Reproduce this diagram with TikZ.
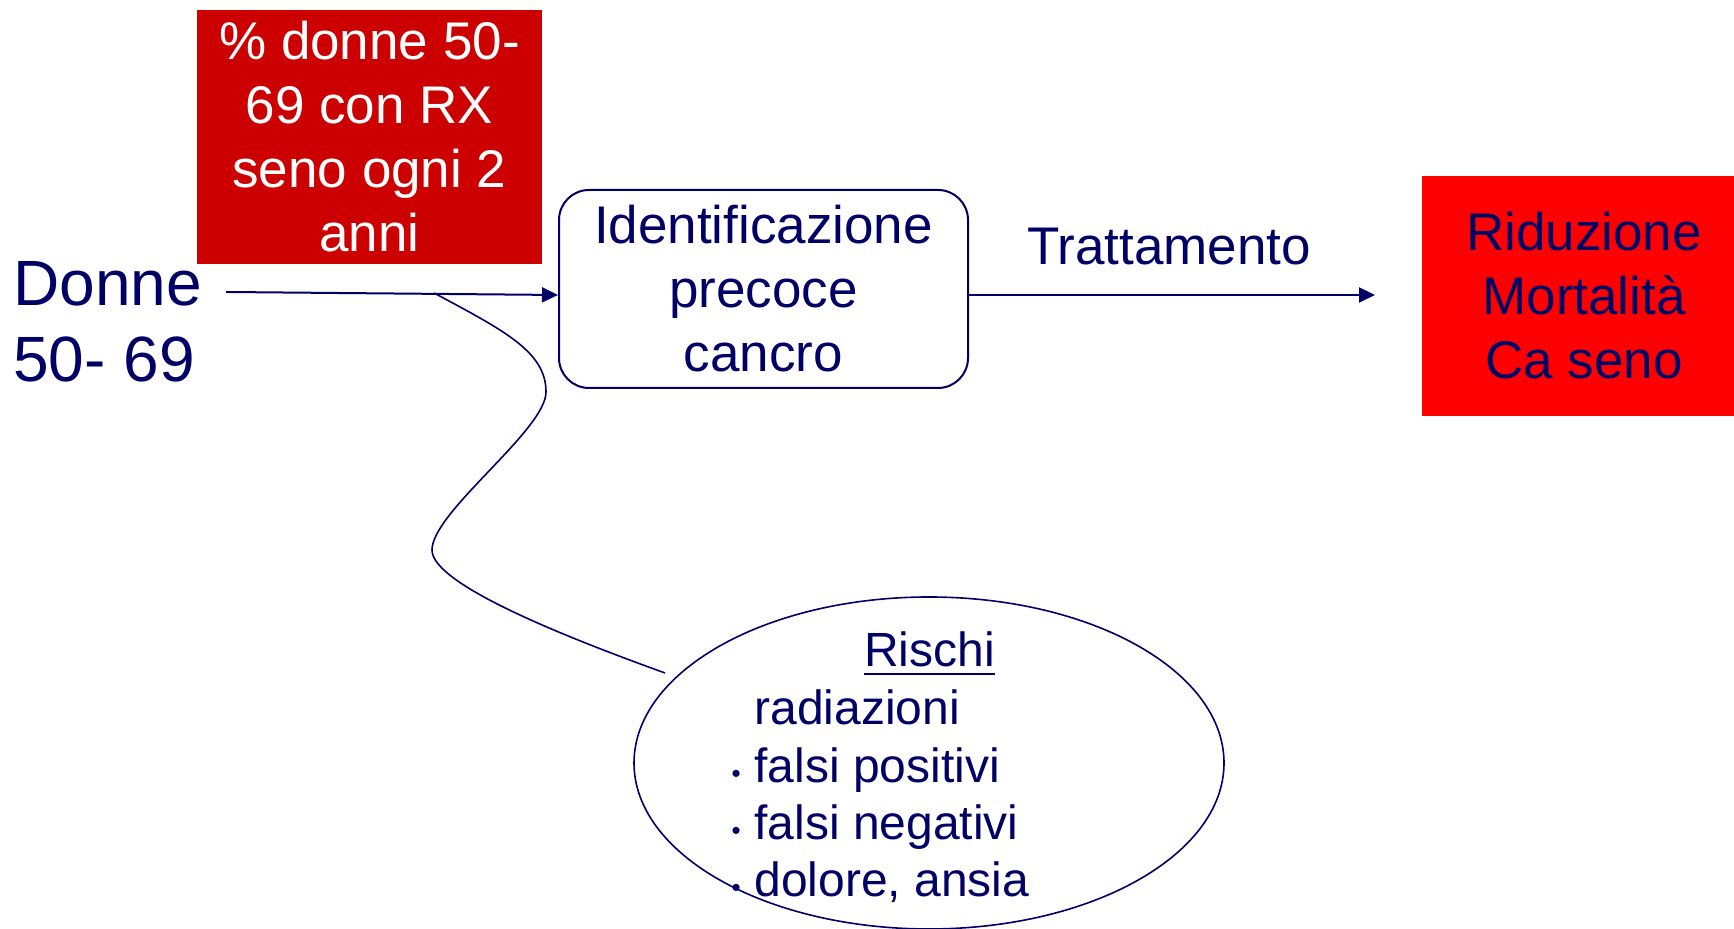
\documentclass[tikz,border=0pt]{standalone}
\usepackage{fontspec}
\setmainfont{Liberation Sans}
\usetikzlibrary{arrows.meta,shapes.geometric}
\definecolor{navy}{RGB}{0,0,102}
\definecolor{darkred}{RGB}{204,0,0}
\definecolor{brightred}{RGB}{255,0,0}
\tikzset{
    stagebox/.style={draw=navy,line width=1pt,rounded corners=15pt,minimum width=204.5pt,minimum height=99pt,align=center,text=navy,inner sep=0pt},
    redbox/.style={inner sep=0pt,align=center},
    flow/.style={navy,line width=1pt,-{Triangle[length=8pt,width=7.5pt]}},
    callout/.style={navy,line width=0.8pt},
    bigtext/.style={font=\fontsize{26.5}{32}\selectfont},
    listtext/.style={text=navy,font=\fontsize{24}{28}\selectfont,inner sep=0pt,anchor=base west}
}
\begin{document}
\begin{tikzpicture}[x=0.5pt,y=0.5pt]
\useasboundingbox (0,0) rectangle (1734,929);

\node[text=navy,font=\fontsize{32}{38}\selectfont,align=left,inner sep=0pt,anchor=west] (donne) at (13,607) {Donne\\50- 69};
\node[redbox,fill=darkred,text=white,bigtext,minimum width=172.5pt,minimum height=127pt] (screen) at (369.5,792) {\% donne 50-\\69 con RX\\seno ogni 2\\anni};
\node[stagebox,bigtext] (ident) at (763.5,640) {Identificazione\\precoce\\cancro};
\node[redbox,fill=brightred,text=navy,bigtext,minimum width=162pt,minimum height=120pt] (esito) at (1584,633) {Riduzione\\Mortalità\\Ca seno};

\coordinate (src) at (226,637);
\coordinate (tgt) at (1375,634);
\draw[flow] (src) -- ([yshift=-3pt]ident.west);
\draw[flow] ([yshift=-3pt]ident.east) -- (tgt);
\node[text=navy,bigtext,anchor=base,inner sep=0pt] (cure) at (1169,664) {Trattamento};

% rischi
\node[draw=navy,line width=0.8pt,ellipse,minimum width=295pt,minimum height=166pt,inner sep=0pt] (risk) at (929,166) {};
\node[listtext,anchor=base] (rischi) at (929.5,262) {Rischi};
\draw[navy,line width=1pt] ([yshift=-3.5pt]rischi.base west) -- ([yshift=-3.5pt]rischi.base east);
\foreach \yy/\txt [count=\i] in {204/radiazioni,146/falsi positivi,89/falsi negativi,32/{dolore, ansia}}
    \node[listtext] (item\i) at (754,\yy) {\txt};
\foreach \i in {2,3,4}
    \node[text=navy,font=\fontsize{13}{13}\selectfont,inner sep=0pt,anchor=base east] (dot\i) at ([xshift=-6.5pt]item\i.base west) {\textbullet};

\coordinate (tap) at (434,636);
\coordinate (rtip) at (665,256);
\draw[callout] (tap) .. controls (505,598) and (546,577) .. (546,537)
    .. controls (546,499) and (432,417) .. (432,379)
    .. controls (432,344) and (571,290) .. (rtip);

\end{tikzpicture}
\end{document}
